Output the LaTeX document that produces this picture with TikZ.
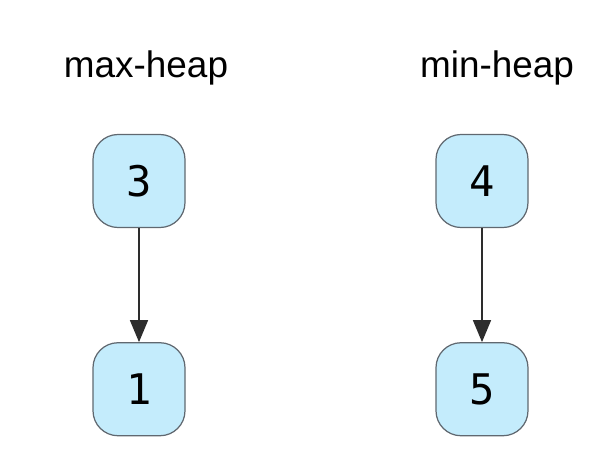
\documentclass[tikz,border=0pt]{standalone}
\usepackage{fontspec}
\setsansfont{Liberation Sans}
\newfontfamily\keyfont{DejaVu Sans Mono}
\definecolor{heapfill}{RGB}{196, 236, 252}
\definecolor{heapline}{RGB}{96, 104, 112}
\definecolor{heaparrow}{RGB}{45, 45, 45}
\usetikzlibrary{arrows.meta, positioning}
\tikzset{
	heapnode/.style={rectangle, rounded corners=0.5cm, draw=heapline, fill=heapfill, line width=0.7pt, minimum width=1.84cm, minimum height=1.86cm, inner sep=0pt, font=\keyfont\fontsize{24}{28}\selectfont},
	heaplabel/.style={font=\sffamily\fontsize{21}{25}\selectfont},
	heapedge/.style={-{Triangle[length=0.44cm, width=0.36cm]}, line width=0.9pt, draw=heaparrow},
}
\begin{document}
\begin{tikzpicture}[node distance=2.28cm]
		\useasboundingbox (0,0) rectangle (12.32,-9.46);
		\node[heaplabel] (maxlabel) at (2.92,-1.36) {max-heap};
		\node[heaplabel] (minlabel) at (9.94,-1.36) {min-heap};
		\node[heapnode] (max3) at (2.78,-3.62) {3};
		\node[heapnode, below=of max3] (max1) {1};
		\node[heapnode] (min4) at (9.64,-3.62) {4};
		\node[heapnode, below=of min4] (min5) {5};
		\draw[heapedge] (max3) -- (max1);
		\draw[heapedge] (min4) -- (min5);
	\end{tikzpicture}
\end{document}
